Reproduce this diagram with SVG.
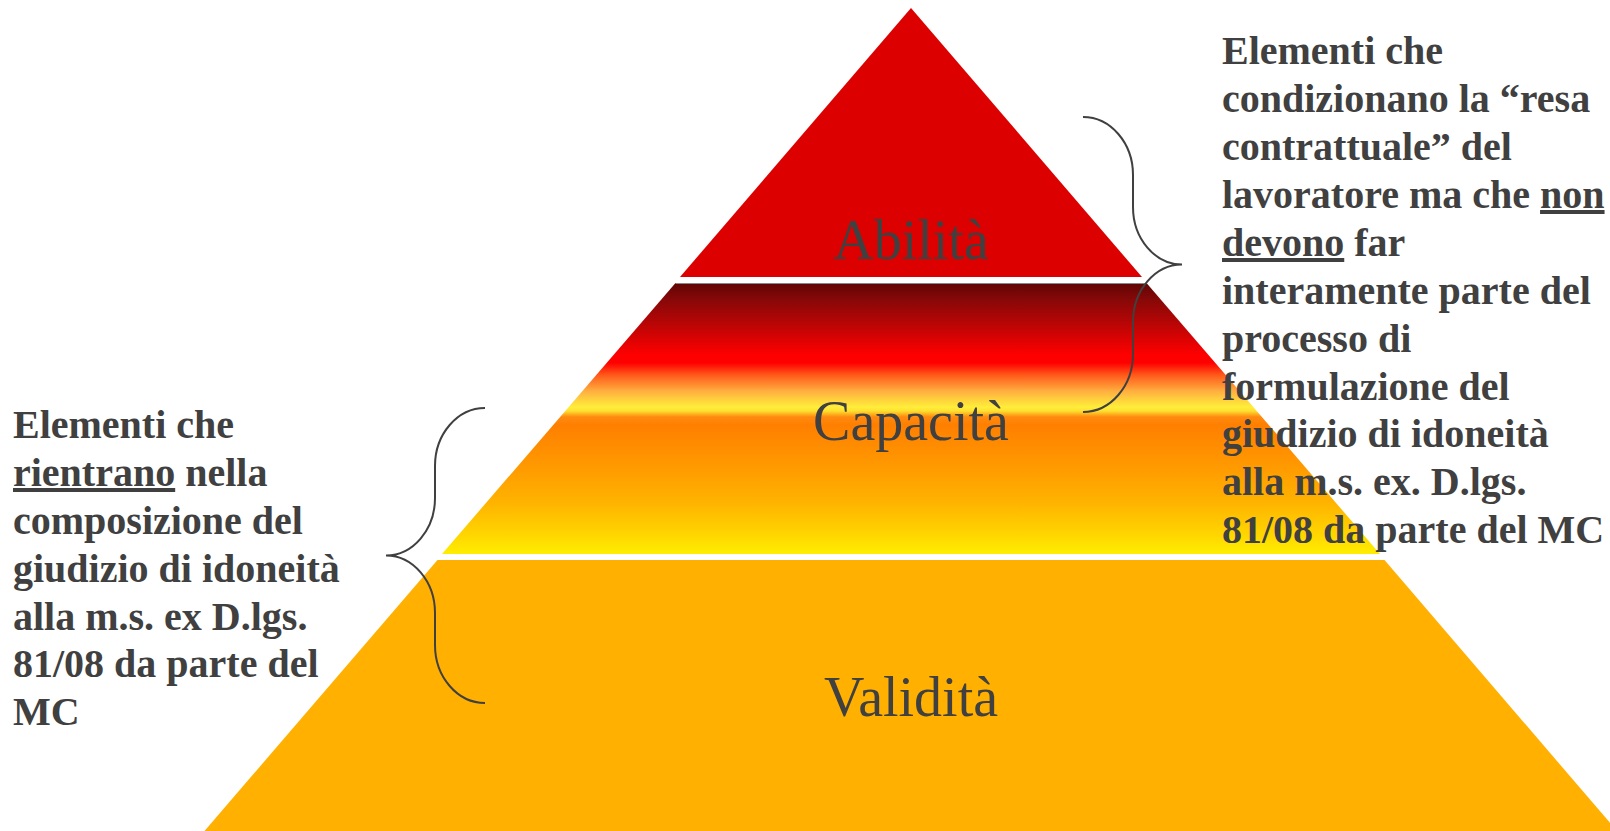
<svg xmlns="http://www.w3.org/2000/svg" xmlns:xlink="http://www.w3.org/1999/xlink" width="1610" height="831" viewBox="0 0 1610 831">
<style>
.lbl{font-family:"Liberation Serif","Times New Roman",serif;font-size:56px;fill:#404040;text-anchor:middle}
.note{font-family:"Liberation Serif","Times New Roman",serif;font-size:40px;font-weight:bold;fill:#404040}
.u{text-decoration:underline}
.brace{fill:none;stroke:#404040;stroke-width:2}
</style>
<defs>
<linearGradient id="g2" gradientUnits="userSpaceOnUse" x1="0" y1="283" x2="0" y2="554">
<stop offset="0" stop-color="#5f0505"/>
<stop offset="0.063" stop-color="#880808"/>
<stop offset="0.155" stop-color="#bb0505"/>
<stop offset="0.266" stop-color="#ff0000"/>
<stop offset="0.295" stop-color="#ff0000"/>
<stop offset="0.34" stop-color="#ff5a1a"/>
<stop offset="0.40" stop-color="#ffb040"/>
<stop offset="0.458" stop-color="#ffee3a"/>
<stop offset="0.472" stop-color="#ffe030"/>
<stop offset="0.494" stop-color="#ff8a10"/>
<stop offset="0.524" stop-color="#ff7f00"/>
<stop offset="0.69" stop-color="#ff9c00"/>
<stop offset="0.81" stop-color="#ffb300"/>
<stop offset="0.937" stop-color="#ffd800"/>
<stop offset="1" stop-color="#ffee00"/>
</linearGradient>
<path id="bracePath" class="brace" d="M0,0 C27.5,0 50,26 50,58 L50,90 C50,121.6 72,147.5 99,147.5 C72,147.5 50,173.4 50,205 L50,237 C50,269 27.5,295 0,295"/>
</defs>
<rect width="1610" height="831" fill="#ffffff"/>
<g id="abilita">
<polygon points="911,8 1142,277 680,277" fill="#dd0000"/>
<text class="lbl" x="911" y="259">Abilità</text>
</g>
<g id="capacita">
<polygon points="675.5,283 1146.5,283 1380,554 442,554" fill="url(#g2)"/>
<line x1="675.5" y1="283.5" x2="1146.5" y2="283.5" stroke="#888888" stroke-width="1"/>
<text class="lbl" x="911" y="440">Capacità</text>
</g>
<g id="validita">
<polygon points="437.5,560 1384.5,560 1617,831 204.5,831" fill="#ffb000"/>
<text class="lbl" x="911" y="716">Validità</text>
</g>
<g id="connectors">
<use xlink:href="#bracePath" transform="translate(1083,117)"/>
<use xlink:href="#bracePath" transform="translate(485,408) scale(-1,1)"/>
</g>
<g id="note-right">
<text class="note" x="1222">
<tspan x="1222" y="64">Elementi che</tspan>
<tspan x="1222" y="112">condizionano la “resa</tspan>
<tspan x="1222" y="160">contrattuale” del</tspan>
<tspan x="1222" y="208">lavoratore ma che <tspan class="u">non</tspan></tspan>
<tspan x="1222" y="256"><tspan class="u">devono</tspan> far</tspan>
<tspan x="1222" y="304">interamente parte del</tspan>
<tspan x="1222" y="352">processo di</tspan>
<tspan x="1222" y="400">formulazione del</tspan>
<tspan x="1222" y="447">giudizio di idoneità</tspan>
<tspan x="1222" y="495">alla m.s. ex. D.lgs.</tspan>
<tspan x="1222" y="543">81/08 da parte del MC</tspan>
</text>
</g>
<g id="note-left">
<text class="note" x="13">
<tspan x="13" y="438">Elementi che</tspan>
<tspan x="13" y="486"><tspan class="u">rientrano</tspan> nella</tspan>
<tspan x="13" y="534">composizione del</tspan>
<tspan x="13" y="582">giudizio di idoneità</tspan>
<tspan x="13" y="630">alla m.s. ex D.lgs.</tspan>
<tspan x="13" y="677">81/08 da parte del</tspan>
<tspan x="13" y="725">MC</tspan>
</text>
</g>
</svg>
